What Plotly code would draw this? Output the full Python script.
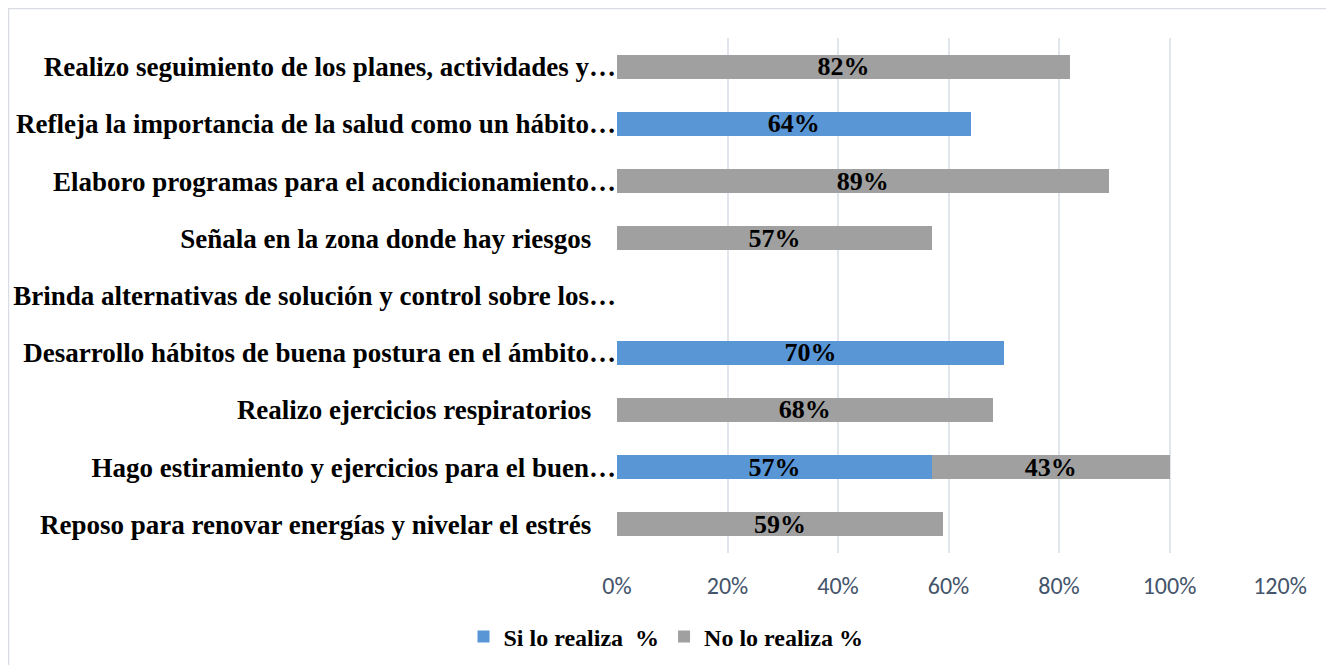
import plotly.graph_objects as go

categories = [
    "Realizo seguimiento de los planes, actividades y…",
    "Refleja la importancia de la salud como un hábito…",
    "Elaboro programas para el acondicionamiento…",
    "Señala en la zona donde hay riesgos",
    "Brinda alternativas de solución y control sobre los…",
    "Desarrollo hábitos de buena postura en el ámbito…",
    "Realizo ejercicios respiratorios",
    "Hago estiramiento y ejercicios para el buen…",
    "Reposo para renovar energías y nivelar el estrés",
]
si_values = [None, 0.64, None, None, None, 0.70, None, 0.57, None]
no_values = [0.82, None, 0.89, 0.57, None, None, 0.68, 0.43, 0.59]
series_names = ["Si lo realiza\u00a0\u00a0%", "No lo realiza %"]
tick_vals = [0, 0.2, 0.4, 0.6, 0.8, 1.0, 1.2]
tick_text = ["0%", "20%", "40%", "60%", "80%", "100%", "120%"]

serif = "Liberation Serif, Times New Roman, serif"
label_font = dict(family=serif, size=26, color="black")

# page body has an 8px margin; figure coordinates are offset accordingly
OFF = 8
W, H = 1334 - OFF, 665 - OFF
PL, PR, PT, PB = 617 - OFF, 1280 - OFF, 38 - OFF, 553 - OFF

# Excel-style: full labels sit a little left of the axis, truncated ones hang the ellipsis out
PAD = "\u2002\u2005\u2006"
y_ticktext = ["<b>" + c + ("" if c.endswith("…") else PAD) + "</b>" for c in categories]

fig = go.Figure()
fig.add_trace(go.Bar(
    y=categories, x=si_values, name="<b>" + series_names[0] + "</b>", orientation="h",
    marker=dict(color="#5896d6", line=dict(width=0)),
    texttemplate="<b>%{x:.0%}</b>", textposition="inside",
    insidetextanchor="middle", textfont=label_font, constraintext="none",
))
fig.add_trace(go.Bar(
    y=categories, x=no_values, name="<b>" + series_names[1] + "</b>", orientation="h",
    marker=dict(color="#a0a0a0", line=dict(width=0)),
    texttemplate="<b>%{x:.0%}</b>", textposition="inside",
    insidetextanchor="middle", textfont=label_font, constraintext="none",
))

fig.update_layout(
    width=W, height=H,
    barmode="stack", bargap=0.58,
    paper_bgcolor="white", plot_bgcolor="white",
    margin=dict(l=PL, r=W - PR, t=PT, b=H - PB, autoexpand=False),
    showlegend=True,
    legend=dict(
        orientation="h", xref="container", yref="container",
        x=(666 - OFF) / W, xanchor="center", y=1 - (637 - OFF) / H, yanchor="middle",
        font=dict(family=serif, size=24, color="black"),
        itemwidth=30, traceorder="normal",
    ),
    xaxis=dict(
        range=[0, 1.2], tickvals=tick_vals, ticktext=tick_text,
        showgrid=True, gridcolor="#e1e5ec", gridwidth=2,
        zeroline=False, showline=False, ticks="",
        tickfont=dict(family="Carlito, Open Sans, sans-serif", size=24, color="#44546a"),
        ticklabelstandoff=16,
    ),
    yaxis=dict(
        autorange="reversed", showgrid=False, showline=False, ticks="",
        tickmode="array", tickvals=categories, ticktext=y_ticktext,
        tickfont=dict(family=serif, size=27, color="black"),
        ticklabelstandoff=0,
    ),
    shapes=[dict(
        type="rect", xref="paper", yref="paper",
        x0=(0.5 - PL) / (PR - PL), x1=(1345 - 617) / 663,
        y0=(553 - 680) / 515, y1=(PB - 0.5) / (PB - PT),
        line=dict(color="#d9dde3", width=1.5), fillcolor="rgba(0,0,0,0)",
        layer="below",
    )],
)

fig.write_html("out.html")
